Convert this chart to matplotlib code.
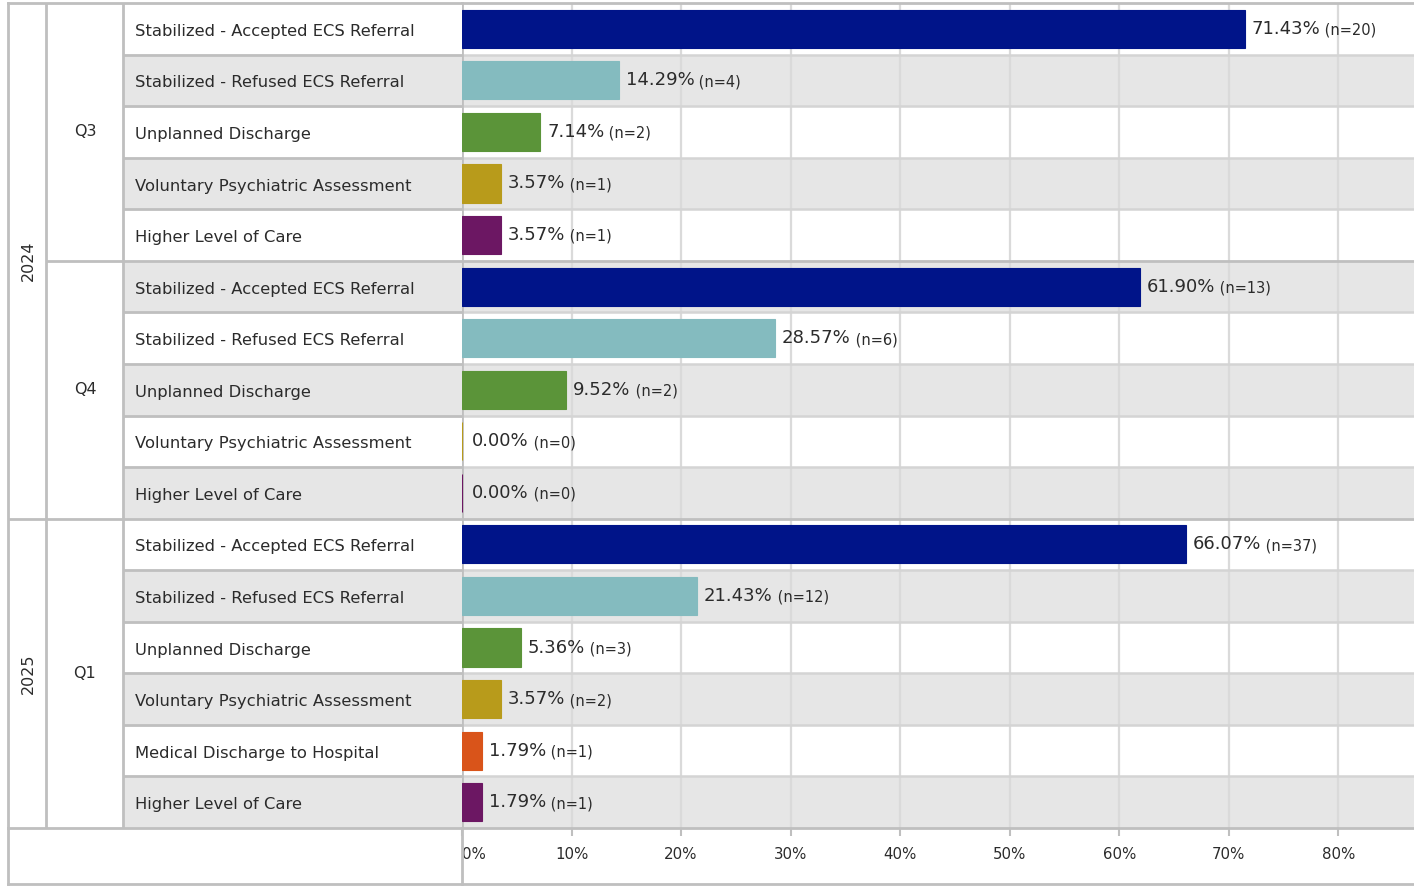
import matplotlib
matplotlib.use("Agg")
import matplotlib.pyplot as plt

plt.rcParams['font.family'] = ['DejaVu Sans']

# data
years = ["2024", "2024", "2025"]
quarters = ["Q3", "Q4", "Q1"]
q3_cats = ["Stabilized - Accepted ECS Referral", "Stabilized - Refused ECS Referral",
           "Unplanned Discharge", "Voluntary Psychiatric Assessment", "Higher Level of Care"]
q3_pct = [71.43, 14.29, 7.14, 3.57, 3.57]
q3_n = [20, 4, 2, 1, 1]
q4_cats = q3_cats
q4_pct = [61.90, 28.57, 9.52, 0.00, 0.00]
q4_n = [13, 6, 2, 0, 0]
q1_cats = ["Stabilized - Accepted ECS Referral", "Stabilized - Refused ECS Referral",
           "Unplanned Discharge", "Voluntary Psychiatric Assessment",
           "Medical Discharge to Hospital", "Higher Level of Care"]
q1_pct = [66.07, 21.43, 5.36, 3.57, 1.79, 1.79]
q1_n = [37, 12, 3, 2, 1, 1]
x_ticks = [0, 10, 20, 30, 40, 50, 60, 70, 80]

colors = {
    "Stabilized - Accepted ECS Referral": "#001489",
    "Stabilized - Refused ECS Referral": "#84bbbf",
    "Unplanned Discharge": "#5b9439",
    "Voluntary Psychiatric Assessment": "#b89b1b",
    "Medical Discharge to Hospital": "#d9541a",
    "Higher Level of Care": "#6c1763",
}

groups = [(years[0], quarters[0], q3_cats, q3_pct, q3_n),
          (years[1], quarters[1], q4_cats, q4_pct, q4_n),
          (years[2], quarters[2], q1_cats, q1_pct, q1_n)]

# flatten rows
rows = []
for yr, q, cats, pcts, ns in groups:
    for c, p, n in zip(cats, pcts, ns):
        rows.append((yr, q, c, p, n))
nrows = len(rows)

W, H = 1414, 886
fig = plt.figure(figsize=(W / 100, H / 100), dpi=100)


def box(x0, y0, x1, y1):
    return [x0 / W, 1 - y1 / H, (x1 - x0) / W, (y1 - y0) / H]


LINE = "#bfbfbf"
GRID = "#dadada"
BAND = "#e6e6e6"
TXT = "#2b2b2b"

ax = fig.add_axes(box(462, 3, 1414, 828))
ax_tab = fig.add_axes(box(8, 3, 462, 828), sharey=ax)
ax.set_ylim(nrows - 0.5, -0.5)
ax.set_xlim(0, 86.9)
ax_tab.set_xlim(8, 462)

# row bands
for i in range(nrows):
    if i % 2 == 1:
        ax.axhspan(i - 0.5, i + 0.5, color=BAND, lw=0, zorder=0)
        ax_tab.axhspan(i - 0.5, i + 0.5, xmin=(123 - 8) / 454, xmax=1, color=BAND, lw=0, zorder=0)

# vertical grid
for t in x_ticks[1:]:
    ax.axvline(t, color=GRID, lw=1.6, zorder=1)

# row separators
group_starts = []
start = 0
for yr, q, cats, pcts, ns in groups:
    group_starts.append(start)
    start += len(cats)
year_starts = [0, 10]
for i in range(1, nrows):
    if i in year_starts:
        ax.axhline(i - 0.5, color=LINE, lw=2, zorder=2)
        ax_tab.hlines(i - 0.5, 8, 462, color=LINE, lw=2, zorder=2)
    elif i in group_starts:
        ax.axhline(i - 0.5, color=LINE, lw=2, zorder=2)
        ax_tab.hlines(i - 0.5, 46, 462, color=LINE, lw=2, zorder=2)
    else:
        ax.axhline(i - 0.5, color="#d4d4d4", lw=1.8, zorder=2)
        ax_tab.hlines(i - 0.5, 123, 462, color=LINE, lw=2, zorder=2)

# bars
ypos = list(range(nrows))
vals = [r[3] for r in rows]
bar_colors = [colors[r[2]] for r in rows]
ax.barh(ypos, vals, height=0.74, color=bar_colors, edgecolor=bar_colors, lw=0.8, zorder=3)

# value labels
for i, (yr, q, c, p, n) in enumerate(rows):
    off = 10 if p == 0 else 7
    t1 = ax.annotate(f"{p:.2f}%", xy=(p, i), xytext=(off, 0), textcoords="offset pixels",
                     ha="left", va="center", fontsize=13, color=TXT, zorder=4)
    ax.annotate(f" (n={n})", xy=(1, 0.42), xycoords=t1, ha="left", va="center",
                fontsize=10.5, color=TXT, zorder=4)

# category labels
for i, r in enumerate(rows):
    ax_tab.text(135, i + 0.05, r[2], ha="left", va="center", fontsize=11.8, color=TXT)

# quarter and year labels
for (yr, q, cats, pcts, ns), s in zip(groups, group_starts):
    ax_tab.text(85, s + (len(cats) - 1) / 2, q, ha="center", va="center", fontsize=11.5, color=TXT)
ax_tab.text(28, 4.5, years[0], ha="center", va="center", rotation=90, fontsize=11.5, color=TXT)
ax_tab.text(28, 12.5, years[2], ha="center", va="center", rotation=90, fontsize=11.5, color=TXT)

# column lines
ax_tab.vlines([46, 123], -0.5, nrows - 0.5, color=LINE, lw=2, zorder=2)

for a in (ax, ax_tab):
    for s in a.spines.values():
        s.set_color(LINE)
        s.set_linewidth(2)
    a.spines["right"].set_visible(False)
ax_tab.set_yticks([])
ax_tab.set_xticks([])
ax.tick_params(axis="y", left=False, labelleft=False)

ax.set_xticks(x_ticks)
ax.set_xticklabels([f"{t}%" for t in x_ticks])
ax.tick_params(axis="x", length=6, width=1.5, color=LINE, labelsize=10.8,
               labelcolor=TXT, pad=8)
ax.get_xticklabels()[0].set_ha("left")

# bottom frame region
ov = fig.add_axes([0, 0, 1, 1], zorder=10)
ov.set_xlim(0, W)
ov.set_ylim(H, 0)
ov.axis("off")
ov.patch.set_alpha(0)
ov.plot([8, 8], [828, 884], color=LINE, lw=2)
ov.plot([461.5, 461.5], [828, 884], color=LINE, lw=2)
ov.plot([8, W], [884, 884], color=LINE, lw=2)

fig.savefig("out.png", dpi=100)
